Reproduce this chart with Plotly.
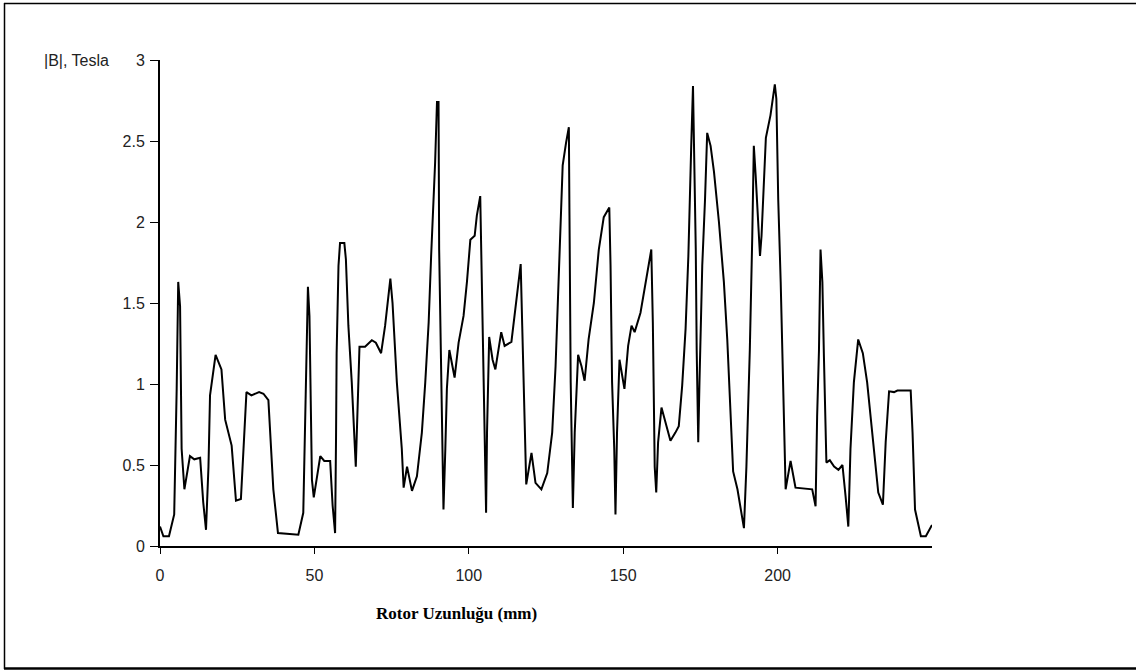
import plotly.graph_objects as go

# Position along the rotor (mm) and flux density magnitude |B| (Tesla)
rotor_mm = [
    0.0, 1.1, 2.9, 4.6, 5.4, 5.9, 6.5, 7.0, 7.9, 9.7, 11.1, 13.0, 14.0, 14.9, 15.7, 16.2,
    18.0, 19.9, 21.1, 23.2, 24.6, 26.2, 28.0, 29.6, 32.1, 33.5, 35.1, 36.7, 38.2, 44.8,
    46.4, 47.2, 47.9, 48.4, 49.2, 49.8, 51.9, 53.2, 55.1, 55.9, 56.7, 57.0, 57.2, 57.8,
    58.3, 59.7, 60.2, 61.0, 62.1, 63.4, 64.0, 64.6, 66.4, 68.6, 69.9, 71.6, 72.9, 74.6,
    75.3, 76.7, 78.3, 78.9, 80.0, 81.6, 83.2, 84.8, 85.9, 87.0, 87.8, 88.6, 89.1, 89.7,
    90.2, 90.4, 90.8, 91.3, 91.8, 92.4, 92.9, 93.7, 95.4, 96.7, 98.3, 99.4, 100.5, 101.9,
    102.6, 103.7, 104.0, 104.8, 105.6, 105.9, 106.6, 107.7, 108.6, 110.5, 111.6, 113.8,
    115.1, 116.2, 116.8, 117.3, 118.1, 118.6, 120.3, 121.6, 123.5, 125.4, 127.0, 128.1,
    128.9, 129.7, 130.4, 131.5, 132.4, 132.6, 133.0, 133.7, 134.3, 135.4, 136.5, 137.5,
    138.8, 140.5, 142.1, 143.7, 145.5, 145.9, 146.4, 147.1, 147.5, 148.0, 148.8, 150.4,
    151.6, 152.7, 153.7, 155.6, 157.2, 159.1, 159.6, 160.2, 160.7, 161.3, 162.4, 165.3,
    166.9, 168.0, 169.1, 170.2, 171.1, 171.5, 172.0, 172.6, 172.9, 173.5, 173.8, 174.3,
    174.7, 175.6, 176.5, 177.2, 178.3, 179.4, 181.0, 182.6, 183.7, 184.8, 185.6, 187.0,
    189.1, 189.9, 191.0, 191.8, 192.3, 192.9, 193.6, 194.3, 194.8, 195.3, 196.2, 197.7,
    199.1, 199.6, 200.2, 201.0, 201.7, 202.6, 204.2, 205.8, 211.2, 212.3, 212.8, 213.4,
    213.9, 214.5, 215.0, 215.8, 216.9, 218.3, 219.7, 221.0, 222.0, 222.9, 223.6, 224.7,
    226.1, 227.6, 229.0, 230.7, 232.6, 234.1, 235.0, 236.1, 237.7, 238.8, 243.1, 243.7,
    244.5, 246.4, 248.0, 250.0,
]
b_tesla = [
    0.12, 0.06, 0.06, 0.195, 0.97, 1.63, 1.48, 0.60, 0.35, 0.555, 0.535, 0.545, 0.27, 0.10,
    0.49, 0.93, 1.18, 1.09, 0.78, 0.62, 0.28, 0.29, 0.95, 0.93, 0.95, 0.94, 0.90, 0.35,
    0.08, 0.07, 0.205, 1.05, 1.60, 1.42, 0.41, 0.30, 0.555, 0.525, 0.525, 0.25, 0.08, 0.66,
    1.19, 1.73, 1.87, 1.87, 1.77, 1.36, 1.01, 0.49, 0.905, 1.23, 1.23, 1.27, 1.255, 1.19,
    1.36, 1.65, 1.50, 1.01, 0.60, 0.36, 0.49, 0.34, 0.43, 0.70, 1.01, 1.38, 1.79, 2.14,
    2.37, 2.74, 2.74, 1.83, 1.32, 0.80, 0.225, 0.60, 0.97, 1.21, 1.04, 1.255, 1.42, 1.63,
    1.89, 1.915, 2.04, 2.16, 1.83, 1.09, 0.205, 0.70, 1.29, 1.15, 1.09, 1.32, 1.235, 1.26,
    1.46, 1.63, 1.74, 1.36, 0.80, 0.38, 0.575, 0.39, 0.35, 0.45, 0.70, 1.11, 1.54, 2.04,
    2.35, 2.49, 2.585, 2.04, 1.01, 0.235, 0.70, 1.18, 1.11, 1.02, 1.275, 1.50, 1.83, 2.03,
    2.09, 1.73, 1.01, 0.60, 0.195, 0.70, 1.15, 0.97, 1.235, 1.36, 1.32, 1.44, 1.63, 1.83,
    1.38, 0.49, 0.33, 0.64, 0.855, 0.65, 0.70, 0.74, 0.99, 1.34, 1.79, 2.18, 2.45, 2.84,
    2.55, 1.83, 1.21, 0.64, 1.01, 1.73, 2.14, 2.55, 2.47, 2.31, 2.00, 1.63, 1.275, 0.80,
    0.46, 0.35, 0.11, 0.49, 1.21, 1.915, 2.47, 2.285, 2.00, 1.79, 1.915, 2.16, 2.52, 2.66,
    2.85, 2.76, 2.14, 1.63, 1.01, 0.35, 0.525, 0.36, 0.35, 0.245, 0.80, 1.21, 1.83, 1.63,
    1.17, 0.515, 0.53, 0.49, 0.47, 0.50, 0.31, 0.12, 0.60, 1.01, 1.275, 1.19, 1.01, 0.70,
    0.33, 0.255, 0.64, 0.955, 0.95, 0.96, 0.96, 0.70, 0.225, 0.06, 0.06, 0.13,
]

x_ticks = [0, 50, 100, 150, 200]
y_ticks = [0, 0.5, 1, 1.5, 2, 2.5, 3]

# plot area in pixels: x 0..250 -> 160..932, y 3..0 -> 60..546
PL, PR, PT, PB = 160, 932, 60, 546
W, H = 1136, 670


def px_to_paper_x(px):
    return (px - PL) / (PR - PL)


def px_to_paper_y(py):
    return (PB - py) / (PB - PT)


fig = go.Figure(
    go.Scatter(
        x=rotor_mm,
        y=b_tesla,
        mode="lines",
        line=dict(color="black", width=2),
        hoverinfo="x+y",
    )
)

tick_font = dict(family="Liberation Sans, Arial, sans-serif", size=16, color="#222222")

fig.update_layout(
    width=W,
    height=H,
    paper_bgcolor="white",
    plot_bgcolor="white",
    margin=dict(l=PL, r=W - PR, t=PT, b=H - PB, pad=0),
    showlegend=False,
    xaxis=dict(
        range=[0, 250],
        tickvals=x_ticks,
        ticktext=[str(v) for v in x_ticks],
        showgrid=False,
        zeroline=False,
        showline=True,
        linecolor="black",
        linewidth=2,
        ticks="outside",
        ticklen=6,
        tickwidth=1,
        tickcolor="black",
        tickfont=tick_font,
        ticklabelstandoff=8,
    ),
    yaxis=dict(
        range=[0, 3],
        tickvals=y_ticks,
        ticktext=["0", "0.5", "1", "1.5", "2", "2.5", "3"],
        showgrid=False,
        zeroline=False,
        showline=True,
        linecolor="black",
        linewidth=2,
        ticks="outside",
        ticklen=8,
        tickwidth=1,
        tickcolor="black",
        tickfont=tick_font,
        ticklabelstandoff=2,
    ),
    annotations=[
        dict(
            text="|B|, Tesla",
            xref="paper",
            yref="y",
            x=px_to_paper_x(111),
            y=3,
            xanchor="right",
            yanchor="middle",
            showarrow=False,
            font=tick_font,
        ),
        dict(
            text="<b>Rotor Uzunluğu (mm)</b>",
            xref="paper",
            yref="paper",
            x=px_to_paper_x(456),
            y=px_to_paper_y(613),
            xanchor="center",
            yanchor="middle",
            showarrow=False,
            font=dict(family="Liberation Serif, Times New Roman, serif", size=17, color="black"),
        ),
    ],
    shapes=[
        # frame: top, left and bottom edges of the chart box
        dict(type="line", xref="paper", yref="paper",
             x0=px_to_paper_x(4), x1=px_to_paper_x(1140),
             y0=px_to_paper_y(3.5), y1=px_to_paper_y(3.5),
             line=dict(color="black", width=1.5), layer="below"),
        dict(type="line", xref="paper", yref="paper",
             x0=px_to_paper_x(4.5), x1=px_to_paper_x(4.5),
             y0=px_to_paper_y(3), y1=px_to_paper_y(669),
             line=dict(color="black", width=1.5), layer="below"),
        dict(type="line", xref="paper", yref="paper",
             x0=px_to_paper_x(4), x1=px_to_paper_x(1140),
             y0=px_to_paper_y(668.5), y1=px_to_paper_y(668.5),
             line=dict(color="black", width=2.5), layer="below"),
    ],
)

fig.write_html("out.html")
